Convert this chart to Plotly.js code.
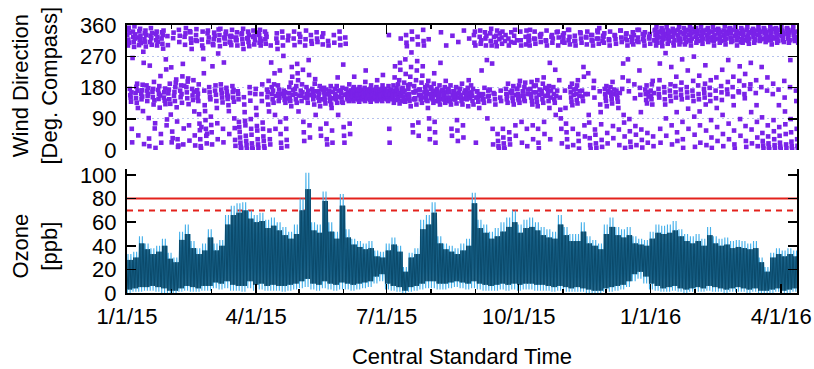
<!DOCTYPE html>
<html><head><meta charset="utf-8">
<script src="https://cdn.plot.ly/plotly-3.0.1.min.js"></script>
<style>html,body{margin:0;padding:0;background:#fff}#chart{width:814px;height:369px}</style>
</head><body><div id="chart"></div>
<script>
// ---- data (4-day bins starting 1/1/15) ----
const binStart = '2015-01-01';
const binDays = 4;
const xEnd = '2016-04-12';

const ozHi = [33,35,48,42,38,40,46,34,30,52, 58,44,38,42,54,42,45,66,74,76, 77,70,66,68,62,64,60,56,52,58,
  80,102,60,58,86,60,52,84,54,46, 44,42,44,36,35,42,47,40,22,34, 38,62,66,77,48,42,40,38,42,46,
  85,62,58,52,55,60,64,70,58,62, 64,60,56,54,52,66,56,50,50,60, 48,45,42,58,64,56,54,56,48,46,
  45,52,58,57,58,61,54,50,48,50, 46,56,48,46,47,44,45,44,42,44, 30,22,34,38,36,38,36];
const ozCoreHi = [28,30,42,37,33,35,40,29,26,45, 50,38,33,36,47,36,40,58,66,68, 70,63,60,61,55,57,53,49,46,50,
  70,88,53,51,78,52,46,74,47,41, 39,37,38,31,30,36,41,35,18,30, 33,54,58,68,42,37,35,33,36,40,
  76,55,51,46,48,52,56,60,51,55, 56,53,49,47,46,58,49,44,44,52, 42,40,37,50,56,49,47,49,42,41,
  40,46,51,50,51,53,48,44,42,44, 40,49,42,40,41,38,39,38,37,38, 26,18,30,33,31,33,31];
const ozLo = [0,1,1,2,2,1,0,0,0,1, 2,1,1,2,2,4,3,4,2,2, 1,4,2,3,2,2,2,1,2,3,
  4,5,3,2,4,3,2,3,3,2, 3,4,5,8,10,3,2,1,0,1, 2,3,4,4,3,3,4,5,4,3,
  4,3,2,2,2,3,2,3,2,3, 3,2,2,2,1,2,1,1,1,1, 0,0,0,1,1,2,3,5,10,12,
  8,3,2,1,1,2,1,0,1,1, 1,2,1,1,0,1,1,1,0,1, 0,0,0,1,0,0,1];
const ozCoreLo = [3,4,5,5,6,5,4,2,2,4, 6,5,4,6,6,9,8,10,7,6, 6,10,7,8,6,7,6,6,7,8,
  10,12,8,7,10,8,7,9,8,7, 8,9,10,14,16,8,6,5,2,5, 6,8,10,10,8,8,9,10,9,8,
  10,8,7,6,7,8,7,8,7,8, 8,7,7,6,5,6,5,4,5,4, 3,2,2,4,5,6,7,10,16,18,
  14,8,6,4,5,6,4,3,4,5, 4,6,5,4,3,4,5,4,3,4, 2,2,3,4,2,3,4];
const ozLimits = [80, 70];

const windDir = [
 [332,347,301,318,352,309,338,176,158,151,139,166,61,22,265],
 [341,326,311,297,356,321,333,164,149,182,136,191,171,121,42],
 [324,302,342,316,349,329,308,161,146,172,154,188,112,283,251,17],
 [319,336,312,344,298,331,186,171,141,156,162,178,92,33,11,243],
 [311,329,351,322,303,337,167,152,176,131,196,143,62,77,6],
 [334,316,341,301,326,312,173,147,162,184,122,157,213,46,21],
 [321,339,306,331,292,344,151,166,142,177,132,261,232,71,88],
 [328,302,163,174,146,191,133,102,238,22,53,34],
 [322,338,156,167,141,181,194,203,123,82,31,9,13],
 [346,311,329,171,152,186,161,136,212,248,16,62,185],
 [326,303,336,351,181,166,149,197,206,132,71,27,342],
 [339,321,309,291,176,157,144,201,168,111,42,13,316],
 [331,348,314,172,151,162,141,189,103,76,57,31,11,4,66],
 [318,301,341,293,262,221,171,129,112,86,61,41,19,47],
 [336,344,311,324,181,166,152,146,96,72,51,16,241,305],
 [302,319,338,329,171,186,159,141,121,77,31,278,347],
 [316,331,299,349,189,174,163,151,137,61,22,252,324],
 [321,306,334,341,179,168,158,147,154,129,112,46,312,327],
 [309,329,302,326,346,184,167,151,173,139,91,63,29,12,317],
 [324,316,339,301,169,161,146,81,66,52,36,21,9,4,333],
 [336,319,306,349,291,152,131,109,84,71,41,26,14,3,322],
 [321,341,311,331,299,181,164,142,89,61,44,19,7,2,326],
 [344,326,304,329,316,161,176,121,101,69,56,31,16,6,338],
 [331,309,346,321,301,314,161,141,189,79,61,39,26,11,4],
 [341,319,306,334,326,174,152,166,131,199,111,56,31,16],
 [301,252,181,161,146,171,136,189,221,101,61,156],
 [321,336,309,291,186,161,141,174,151,229,81,46,21,6,162],
 [341,324,301,271,171,156,144,166,136,91,61,29,11,148],
 [316,329,164,181,151,141,194,126,239,211,159,172],
 [321,341,302,176,161,146,184,136,248,221,201,111,157],
 [334,311,326,171,156,141,189,166,231,81,51,26,151],
 [301,319,344,181,161,149,136,171,259,216,71,36,158],
 [331,314,306,176,164,146,156,131,191,204,101,169],
 [339,321,311,169,151,161,141,184,126,61,41,174,146],
 [326,304,336,166,179,156,144,134,174,76,31,16,161],
 [314,301,161,171,151,141,184,131,121,56,21,167,149],
 [331,309,176,161,146,156,184,136,209,101,171,152],
 [341,321,302,171,164,151,139,179,136,246,66,41,21,159],
 [324,306,176,161,151,146,166,156,141,189,76,46,171],
 [171,161,151,146,166,156,176,141,181,211,163,153,168,148,158,174],
 [166,156,149,161,171,144,176,139,181,163,153,168,158,147,173,151],
 [171,161,151,146,166,156,179,141,196,229,163,153,169,148,158,174],
 [166,151,161,156,171,144,176,139,186,163,154,168,158,147,173,149],
 [171,161,156,151,166,146,176,181,141,201,163,153,168,148,158,174],
 [166,159,149,156,171,144,176,141,186,216,163,153,168,148,158,174],
 [176,164,154,151,161,146,169,141,184,331,61,21,158,172,148],
 [174,161,151,146,166,156,186,136,171,209,241,158,168,144,178],
 [171,159,149,189,146,164,201,134,251,231,321,156,176,141,168],
 [179,166,154,144,194,171,139,261,219,331,309,299,158,148,186],
 [176,161,151,141,189,211,126,239,281,341,319,71,51,166,146],
 [184,166,149,146,171,201,131,229,256,326,304,79,41,158,174],
 [174,159,146,156,194,136,214,241,346,314,301,166,151,181],
 [171,156,144,166,186,141,121,199,319,91,61,31,161,176,151],
 [181,161,149,146,171,136,191,221,81,51,21,158,166,141],
 [176,164,151,141,159,186,131,251,339,168,146,172],
 [171,156,146,161,181,136,199,301,166,151,176,141],
 [174,166,151,141,186,131,61,41,329,158,169,146],
 [169,161,146,156,181,134,86,56,26,311,164,151,176],
 [176,159,151,141,191,131,71,36,344,164,148,171],
 [171,154,146,161,179,126,201,321,166,149,158,186],
 [164,156,141,176,131,331,309,341,301,21,151,169],
 [169,151,139,161,121,326,344,306,316,229,156,146],
 [161,146,136,179,339,321,301,329,259,91,154,171],
 [156,141,174,336,314,349,301,249,61,16,164,326],
 [161,146,131,311,329,299,344,46,26,11,4,319,336],
 [151,171,141,324,306,341,61,36,19,7,2,314,331],
 [176,161,146,156,136,191,321,301,51,31,16,166,311,339],
 [171,164,151,141,184,131,329,309,346,71,41,158,176,316],
 [176,161,149,144,186,136,199,341,316,301,81,21,156,169],
 [169,156,146,181,141,194,326,304,344,61,11,161,174,314],
 [329,316,301,346,176,161,151,196,141,131,71,31,166,184,321],
 [341,319,306,186,166,151,139,201,126,61,21,5,159,174,331],
 [326,311,334,171,161,146,191,136,209,81,46,156,179,316],
 [314,344,301,176,156,166,141,184,121,251,31,151,171,326],
 [331,309,321,181,161,146,136,231,101,156,339,171],
 [341,301,324,201,151,116,91,61,19,311,331],
 [321,336,309,171,121,76,51,31,9,346,316],
 [346,326,304,181,166,151,139,191,129,61,14,159,174,314],
 [329,314,301,176,161,144,186,134,201,46,26,4,156,169,339],
 [336,321,309,171,154,141,239,211,71,39,161,326],
 [324,304,341,161,221,101,79,34,14,3,331,316],
 [331,314,301,179,199,151,59,44,19,6,321,344],
 [339,321,306,351,169,131,109,74,29,9,314,329],
 [326,309,336,176,161,151,141,184,126,49,19,166,171,319],
 [316,301,341,181,166,156,146,134,196,69,34,161,174,331],
 [329,319,306,171,159,149,139,121,59,14,164,344],
 [344,324,311,176,209,249,101,79,39,6,321,334],
 [336,316,301,261,199,169,89,54,24,9,326,311],
 [321,339,304,331,189,149,69,44,14,314,346],
 [324,311,346,229,179,159,109,59,29,7,334,319],
 [331,314,301,339,174,161,144,186,134,49,21,166,154,326],
 [321,334,306,171,156,146,189,131,199,39,11,164,316,344],
 [346,331,314,301,354,321,336,309,326,341,176,161,151,201,249,61,21],
 [339,324,351,311,299,336,319,344,329,181,166,146,131,279,91,41],
 [354,334,321,306,344,331,314,339,326,171,156,189,141,239,71,16],
 [341,349,326,309,301,336,316,344,184,166,151,211,109,51,26,331],
 [346,329,316,354,304,321,339,311,174,159,194,146,261,81,31,6,334],
 [351,336,321,304,341,326,311,346,181,166,151,229,119,61,331,316],
 [344,356,331,314,301,336,321,349,171,156,199,141,269,96,44,9],
 [339,326,351,309,334,319,344,314,186,161,146,214,111,71,21,329],
 [354,341,329,316,306,344,321,336,176,164,151,191,244,131,56,14],
 [346,331,319,351,311,336,324,341,179,159,141,201,86,36,6,316],
 [341,354,326,314,301,331,346,319,171,149,209,121,66,26,336],
 [349,336,321,344,309,326,339,314,184,166,144,231,101,46,11,331],
 [344,329,356,316,304,341,321,334,174,161,196,259,76,31,349],
 [339,351,324,336,311,321,346,314,181,154,211,129,56,16,4,329],
 [356,344,331,316,301,341,324,336,169,166,199,241,89,41,311],
 [351,334,319,346,309,331,341,316,186,161,149,219,69,26,9,326],
 [346,354,329,314,339,306,321,336,176,189,251,109,59,19,344],
 [341,349,326,334,309,319,344,316,164,201,129,81,36,11,331],
 [356,346,331,339,314,324,341,319,181,239,94,49,26,13,4,351],
 [349,336,321,344,311,329,339,316,171,209,71,39,19,8,2,326],
 [344,356,331,316,341,304,326,349,161,191,86,54,31,14,6,321],
 [339,351,324,334,309,321,346,314,174,129,66,41,21,9,3,331],
 [354,344,329,341,316,326,336,311,199,151,111,74,46,16,5,349],
 [351,334,346,321,331,309,339,316,181,259,89,51,24,11,2,344],
 [346,356,331,339,319,314,326,341,171,141,61,31,12,4,309]
];

const xTickVals = ['2015-01-01','2015-04-01','2015-07-01','2015-10-01','2016-01-01','2016-04-01'];
const xTickText = ['1/1/15','4/1/15','7/1/15','10/1/15','1/1/16','4/1/16'];
const windTicks = [0,90,180,270,360];
const ozTicks = [0,20,40,60,80,100];

// ---- build traces ----
const DAY = 86400000;
const t0 = Date.parse(binStart + 'T00:00:00Z');
function iso(ms){ return new Date(ms).toISOString().slice(0,19).replace('T',' '); }

// daily cycles inside each bin; alternate days reach the outer (light) extremes
function cycles(hiA, loA, hiB, loB){
  const x=[], y=[]; const n=Math.min(hiA.length, loA.length, hiB.length, loB.length);
  for(let i=0;i<n;i++){
    for(let d=0; d<binDays; d++){
      const base=t0+(i*binDays+d)*DAY;
      const even = d%2===0;
      x.push(iso(base+0.2*DAY)); y.push(even ? loA[i] : loB[i]);
      x.push(iso(base+0.7*DAY)); y.push(even ? hiA[i] : hiB[i]);
    }
  }
  return {x,y};
}
const light = cycles(ozHi, ozLo, ozCoreHi, ozCoreLo);
const dark = cycles(ozCoreHi, ozCoreLo, ozCoreHi, ozCoreLo);

const wx=[], wy=[];
windDir.forEach((vals,i)=>{
  vals.forEach((v,j)=>{
    wx.push(iso(t0 + (i*binDays + (j+0.5)/vals.length*binDays)*DAY));
    wy.push(v);
  });
});

const FONT = 'Liberation Sans, Arial, Helvetica, sans-serif';
const data = [
  {x:[binStart, xEnd], y:[ozLimits[0], ozLimits[0]], xaxis:'x', yaxis:'y', mode:'lines',
   line:{color:'#e3221c', width:2}, hoverinfo:'skip', showlegend:false},
  {x:[binStart, xEnd], y:[ozLimits[1], ozLimits[1]], xaxis:'x', yaxis:'y', mode:'lines',
   line:{color:'#e3221c', width:2, dash:'6px,5px'}, hoverinfo:'skip', showlegend:false},
  {x:light.x, y:light.y, xaxis:'x', yaxis:'y', mode:'lines', line:{color:'#45b0ea', width:1.1}, showlegend:false},
  {x:dark.x, y:dark.y, xaxis:'x', yaxis:'y', mode:'lines', line:{color:'#0b4a6b', width:1}, showlegend:false},
  {x:wx, y:wy, xaxis:'x2', yaxis:'y2', mode:'markers', type:'scatter',
   marker:{symbol:'square', size:4.6, color:'#7a22e8', line:{width:0}}, showlegend:false}
];

const xCommon = {
  type:'date', range:[binStart, xEnd], tickmode:'array', tickvals:xTickVals, ticktext:xTickText,
  ticks:'inside', ticklen:9, tickwidth:1.5, tickcolor:'#000',
  showline:true, linewidth:2, linecolor:'#000', showgrid:false, zeroline:false,
  minor:{dtick:'M1', tick0:'2015-01-01', ticks:'inside', ticklen:4, tickwidth:1.5, tickcolor:'#000', showgrid:false}
};

const layout = {
  width:814, height:369,
  margin:{l:127, r:17, t:25, b:76},
  paper_bgcolor:'#fff', plot_bgcolor:'#fff',
  font:{family:FONT, size:22, color:'#000'},
  showlegend:false,
  xaxis: Object.assign({}, xCommon, {anchor:'y', domain:[0,1], mirror:false,
    tickfont:{size:22}, ticklabelstandoff:3,
    title:{text:'Central Standard Time', font:{size:22}, standoff:21}}),
  xaxis2: Object.assign({}, xCommon, {anchor:'y2', domain:[0,1], side:'top', matches:'x', showticklabels:false, mirror:false}),
  yaxis: {anchor:'x', domain:[0, 0.4623], range:[0,105], tickmode:'array', tickvals:ozTicks,
    ticks:'inside', ticklen:9, tickwidth:1.5, tickcolor:'#000', showline:true, linewidth:2, linecolor:'#000',
    mirror:'ticks', showgrid:false, zeroline:false, tickfont:{size:22}, ticklabelstandoff:4},
  yaxis2: {anchor:'x2', domain:[0.5336, 1], range:[0,360], tickmode:'array', tickvals:windTicks,
    ticks:'inside', ticklen:9, tickwidth:1.5, tickcolor:'#000', showline:true, linewidth:2, linecolor:'#000',
    mirror:'ticks', showgrid:true, gridcolor:'#b7c2ee', gridwidth:1, griddash:'2px,3px', zeroline:false,
    tickfont:{size:22}, ticklabelstandoff:4},
  annotations:[
    {text:'Wind Direction<br>[Deg. Compass]', textangle:-90, xref:'paper', yref:'paper',
     x:-0.1366, y:0.776, xanchor:'center', yanchor:'middle', showarrow:false, font:{size:22}},
    {text:'Ozone<br>[ppb]', textangle:-90, xref:'paper', yref:'paper',
     x:-0.1366, y:0.175, xanchor:'center', yanchor:'middle', showarrow:false, font:{size:22}}
  ]
};

Plotly.newPlot('chart', data, layout, {staticPlot:true, displayModeBar:false});
</script>
</body></html>
